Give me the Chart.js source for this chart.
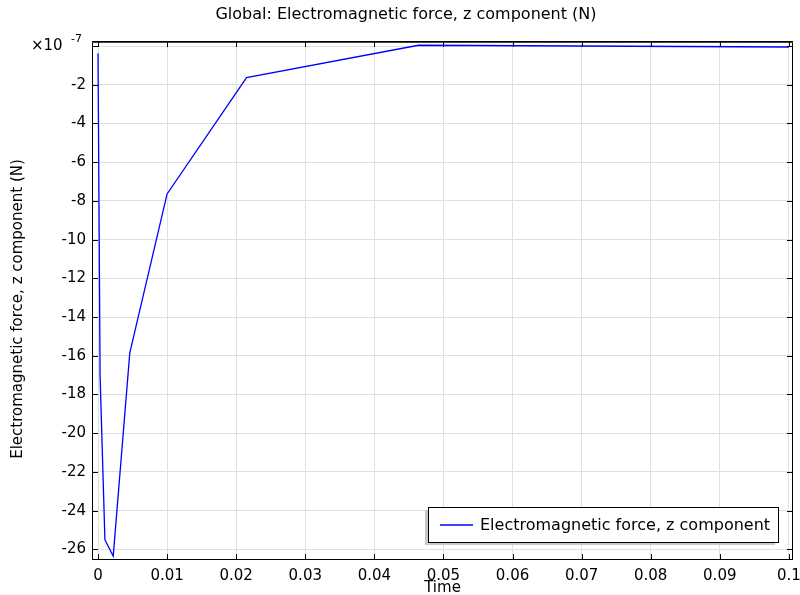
<!DOCTYPE html>
<html>
<head>
<meta charset="utf-8">
<script src="https://cdn.jsdelivr.net/npm/chart.js@4.4.0/dist/chart.umd.min.js"></script>
<style>
  body { margin: 0; background: #fff; }
  canvas { display: block; }
</style>
</head>
<body>
<canvas id="plot" width="800" height="595"></canvas>
<script>
// values (force in units of 1e-7 N)
const timeValues = [0, 0.0003, 0.001, 0.0022, 0.0046, 0.01, 0.0215, 0.0464, 0.1];
const forceValues = [-0.37, -17.0, -25.5, -26.35, -15.85, -7.64, -1.63, 0.04, -0.05];
const xTickValues = [0, 0.01, 0.02, 0.03, 0.04, 0.05, 0.06, 0.07, 0.08, 0.09, 0.1];
const yTickValues = [-26, -24, -22, -20, -18, -16, -14, -12, -10, -8, -6, -4, -2, 0];
const seriesLabel = 'Electromagnetic force, z component';
const chartTitle = 'Global: Electromagnetic force, z component (N)';
const yAxisTitle = 'Electromagnetic force, z component (N)';
const xAxisTitle = 'Time';

const FONT = '"DejaVu Sans", sans-serif';

const decorations = {
    id: 'decorations',
    afterDraw(chart) {
        const ctx = chart.ctx;
        const area = chart.chartArea;
        const xs = chart.scales.x;
        const ys = chart.scales.y;
        ctx.save();

        // frame
        ctx.strokeStyle = '#000';
        ctx.lineWidth = 1;
        ctx.strokeRect(area.left + 0.5, area.top + 0.5, area.right - area.left - 1, area.bottom - area.top - 1);
        ctx.strokeStyle = '#444';
        ctx.beginPath();
        ctx.moveTo(area.left, area.top + 1.5);
        ctx.lineTo(area.right, area.top + 1.5);
        ctx.stroke();

        // inward tick marks on all sides
        ctx.strokeStyle = '#000';
        ctx.beginPath();
        xTickValues.forEach(v => {
            const px = Math.round(xs.getPixelForValue(v)) + 0.5;
            ctx.moveTo(px, area.bottom);
            ctx.lineTo(px, area.bottom - 6);
            ctx.moveTo(px, area.top);
            ctx.lineTo(px, area.top + 6);
        });
        yTickValues.forEach(v => {
            const py = Math.round(ys.getPixelForValue(v)) + 0.5;
            ctx.moveTo(area.left, py);
            ctx.lineTo(area.left + 6, py);
            ctx.moveTo(area.right, py);
            ctx.lineTo(area.right - 6, py);
        });
        ctx.stroke();

        // titles
        ctx.fillStyle = '#000';
        ctx.textAlign = 'center';
        ctx.textBaseline = 'middle';
        ctx.font = '16px ' + FONT;
        ctx.fillText(chartTitle, 406, 15);
        ctx.font = '15px ' + FONT;
        ctx.fillText(xAxisTitle, (area.left + area.right) / 2, 588);
        ctx.save();
        ctx.translate(18, 309);
        ctx.rotate(-Math.PI / 2);
        ctx.fillText(yAxisTitle, 0, 0);
        ctx.restore();

        // exponent label
        ctx.textAlign = 'left';
        ctx.font = '15px ' + FONT;
        ctx.fillText('\u00d710', 31, 46);
        ctx.font = '11px ' + FONT;
        ctx.fillText('-7', 71, 39);

        // legend
        const lx = 428, ly = 507, lw = 350, lh = 35;
        ctx.fillStyle = '#c8c8c8';
        ctx.fillRect(lx - 3, ly + 3, lw, lh);
        ctx.fillStyle = '#fff';
        ctx.fillRect(lx, ly, lw, lh);
        ctx.strokeStyle = '#000';
        ctx.strokeRect(lx + 0.5, ly + 0.5, lw, lh);
        const ds = chart.data.datasets[0];
        ctx.strokeStyle = ds.borderColor;
        ctx.lineWidth = 1.5;
        ctx.beginPath();
        ctx.moveTo(440, ly + lh / 2 + 0.5);
        ctx.lineTo(473, ly + lh / 2 + 0.5);
        ctx.stroke();
        ctx.fillStyle = '#000';
        ctx.font = '16px ' + FONT;
        ctx.fillText(ds.label, 480, ly + lh / 2 + 1);

        ctx.restore();
    }
};

new Chart(document.getElementById('plot').getContext('2d'), {
    type: 'line',
    data: {
        datasets: [{
            label: seriesLabel,
            data: timeValues.map((t, i) => ({ x: t, y: forceValues[i] })),
            borderColor: '#0000ff',
            borderWidth: 1.3,
            pointRadius: 0,
            fill: false,
            tension: 0
        }]
    },
    options: {
        responsive: false,
        animation: false,
        layout: { padding: { top: 41, right: 7, left: 0, bottom: 0 } },
        plugins: {
            legend: { display: false },
            title: { display: false },
            tooltip: { enabled: false }
        },
        scales: {
            x: {
                type: 'linear',
                min: -0.00087,
                max: 0.1006,
                afterBuildTicks: s => { s.ticks = xTickValues.map(v => ({ value: v })); },
                afterFit: s => { s.height = 35; s.paddingLeft = 0; s.paddingRight = 0; },
                grid: { color: '#e0e0e0', drawTicks: false },
                border: { display: false },
                ticks: {
                    padding: 7,
                    color: '#000',
                    font: { family: FONT, size: 15 },
                    maxRotation: 0,
                    autoSkip: false,
                    callback: v => String(+v.toFixed(2))
                }
            },
            y: {
                min: -26.55,
                max: 0.26,
                afterBuildTicks: s => { s.ticks = yTickValues.map(v => ({ value: v })); },
                afterFit: s => { s.width = 92; s.paddingTop = 0; s.paddingBottom = 0; },
                grid: { color: '#e0e0e0', drawTicks: false },
                border: { display: false },
                ticks: {
                    padding: 6,
                    color: '#000',
                    font: { family: FONT, size: 15 },
                    autoSkip: false,
                    callback: v => v === 0 ? '' : String(v)
                }
            }
        }
    },
    plugins: [decorations]
});
</script>
</body>
</html>
